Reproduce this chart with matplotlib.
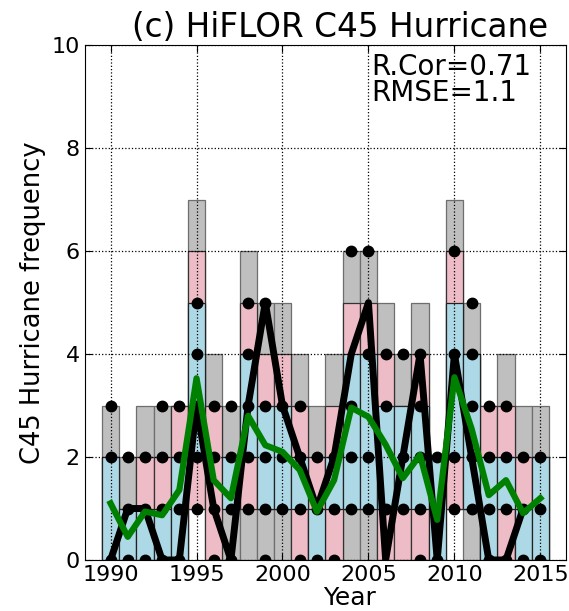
import matplotlib
matplotlib.use('Agg')
import matplotlib.pyplot as plt

years = list(range(1990, 2016))

# stacked range bars (outer gray, middle pink, inner light blue)
gray_lo = [0, 0, 0, 0, 0, 1, 0, 0, 0, 0, 0, 0, 0, 0, 0, 0, 0, 0, 0, 0, 1, 0, 0, 0, 0, 0]
gray_hi = [3, 2, 3, 3, 3, 7, 4, 3, 6, 5, 5, 4, 3, 4, 6, 6, 5, 4, 5, 2, 7, 5, 3, 4, 3, 3]
pink_lo = [0, 0, 0, 0, 0, 1, 0, 0, 1, 1, 1, 0, 0, 0, 1, 1, 0, 0, 0, 0, 1, 1, 0, 0, 0, 0]
pink_hi = [2, 1, 2, 2, 3, 6, 3, 0, 5, 4, 4, 3, 2, 3, 5, 5, 4, 3, 4, 0, 6, 4, 3, 3, 2, 2]
blue_lo = [0, 0, 0, 0, 0, 2, 0, 1, 2, 1, 1, 1, 0, 1, 1, 1, 1, 1, 1, 0, 2, 1, 0, 1, 0, 0]
blue_hi = [2, 1, 1, 1, 2, 5, 0, 2, 4, 3, 3, 2, 1, 2, 4, 4, 3, 3, 3, 2, 5, 4, 2, 2, 1, 2]

# ensemble member counts
members = [
    [0, 2, 3], [0, 1, 2], [0, 1, 2], [0, 1, 2, 3], [0, 1, 2, 3],
    [1, 2, 3, 4, 5], [0, 1, 2, 3], [0, 1, 2, 3], [1, 2, 3, 4, 5], [0, 1, 2, 3, 5],
    [1, 2, 3], [0, 1, 2, 3], [0, 1, 2], [0, 1, 2], [1, 2, 3, 6],
    [1, 2, 4, 6], [1, 3, 4], [1, 2, 4], [0, 1, 2, 3, 4], [0, 2],
    [1, 2, 4, 6], [1, 2, 3, 4, 5], [0, 1, 2, 3], [0, 1, 2, 3], [0, 1, 2],
    [0, 1, 2],
]

obs_years = list(range(1990, 2015))
obs = [0, 1, 1, 0, 0, 3, 1, 0, 3, 5, 3, 2, 1, 2, 4, 5, 0, 2, 4, 0, 4, 2, 0, 0, 1]

ens_mean = [1.10, 0.45, 0.94, 0.87, 1.36, 3.53, 1.55, 1.20, 2.80, 2.23,
            2.10, 1.75, 0.94, 1.55, 2.96, 2.78, 2.24, 1.59, 2.04, 0.78,
            3.55, 2.55, 1.26, 1.55, 0.91, 1.20]

fig = plt.figure(figsize=(5.69, 6.11), dpi=100)
ax = fig.add_axes([0.149, 0.0835, 0.846, 0.8425])

def bars(lo, hi, color, edge):
    h = [b - a for a, b in zip(lo, hi)]
    ax.bar(years, h, bottom=lo, width=1.0, color=color, edgecolor=edge,
           linewidth=0.9, zorder=1)

bars(gray_lo, gray_hi, '#bfbfbf', '#6e6e6e')
bars(pink_lo, pink_hi, '#eebcc6', '#333333')
bars(blue_lo, blue_hi, '#add8e6', '#222222')

for yr, vals in zip(years, members):
    ax.plot([yr] * len(vals), vals, 'o', color='k', ms=7.5, zorder=4)

ax.plot(obs_years, obs, '-', color='k', lw=5, zorder=5)
ax.plot(years, ens_mean, '-', color='green', lw=4.5, zorder=6)

ax.set_xlim(1988.5, 2016.5)
ax.set_ylim(0, 10)
ax.set_xticks([1990, 1995, 2000, 2005, 2010, 2015])
ax.set_yticks([0, 2, 4, 6, 8, 10])
ax.tick_params(direction='in', top=True, right=True, labelsize=16, length=5)
ax.set_axisbelow(False)
ax.grid(True, linestyle=':', color='k', linewidth=0.9)

ax.set_title('(c) HiFLOR C45 Hurricane', fontsize=23.5, x=0.53)
ax.set_xlabel('Year', fontsize=18, labelpad=0)
ax.xaxis.set_label_coords(0.55, -0.05, transform=ax.transAxes)
ax.set_ylabel('C45 Hurricane frequency', fontsize=18.5)
ax.text(0.595, 0.985, 'R.Cor=0.71\nRMSE=1.1', transform=ax.transAxes,
        fontsize=20, va='top', ha='left', linespacing=0.9)

plt.savefig('out.png', dpi=100)
